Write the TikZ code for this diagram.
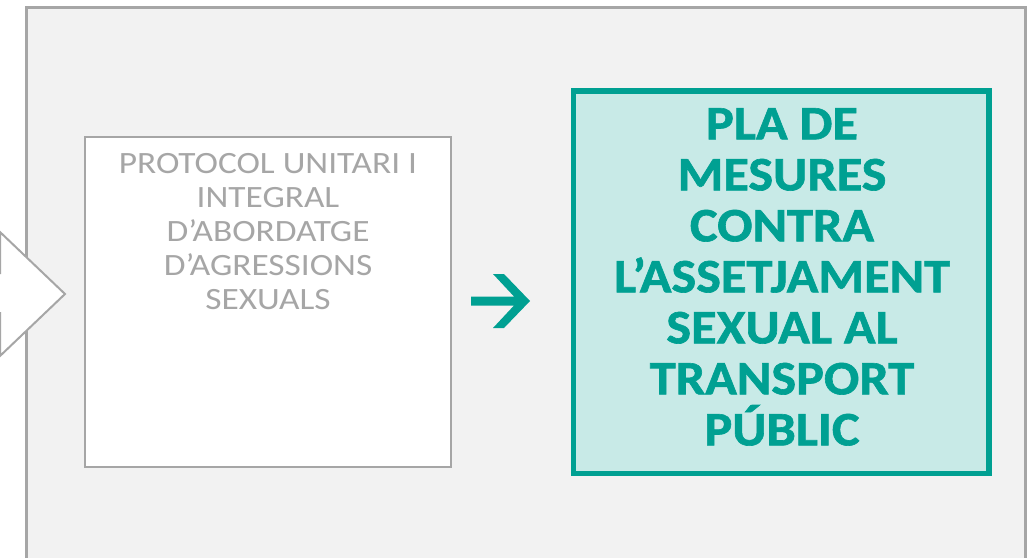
\documentclass[tikz,border=0pt]{standalone}
\usepackage{fontspec}
\setmainfont{Carlito}
\newfontfamily\greyfont[FakeStretch=1.14]{Carlito}
\newfontfamily\tealfont[FakeStretch=1.09,BoldFeatures={FakeStretch=1.09,FakeBold=1.3}]{Carlito}
\definecolor{framegray}{HTML}{A6A6A6}
\definecolor{bggray}{HTML}{F2F2F2}
\definecolor{tealc}{HTML}{00A092}
\definecolor{tealfill}{HTML}{C8EAE7}
\definecolor{textgray}{HTML}{A6A6A6}
\begin{document}
\begin{tikzpicture}[x=1pt,y=-1pt,
  outerframe/.style={draw=framegray, line width=3pt, fill=bggray},
  leftarrow/.style={draw=framegray, line width=2pt, fill=white, line join=miter},
  greybox/.style={draw=framegray, line width=1.8pt, fill=white, minimum width=366pt, minimum height=330pt, inner sep=0pt},
  tealbox/.style={draw=tealc, line width=5.5pt, fill=tealfill, minimum width=415.5pt, minimum height=382.5pt, inner sep=0pt},
  greytext/.style={text=textgray, font=\greyfont\fontsize{31}{34}\selectfont, align=center, inner sep=0pt, anchor=north},
  tealtext/.style={text=tealc, font=\tealfont\fontsize{48}{51}\selectfont\bfseries, align=center, inner sep=0pt, anchor=north},
  tealarrow/.style={fill=tealc},
]
\useasboundingbox (0,0) rectangle (1036,557);
\draw[outerframe] (26,7) rectangle (1025,575);
\draw[leftarrow] (-40,273) -- (0,273) -- (0,232) -- (65,294) -- (0,356) -- (0,313) -- (-40,313) -- cycle;
\node[greybox] (protocol) at (268,302) {};
\node[greytext] (protocoltext) at (268,153) {PROTOCOL UNITARI I\\INTEGRAL\\D’ABORDATGE\\D’AGRESSIONS\\SEXUALS};
\node[tealbox] (pla) at (781.25,282.25) {};
\node[tealtext] (platext) at (782,108) {PLA DE\\MESURES\\CONTRA\\L’ASSETJAMENT\\SEXUAL AL\\TRANSPORT\\PÚBLIC};
\fill[tealarrow] (471,296.5) -- (514,296.5) -- (493,274) -- (504,274) -- (530,301) -- (504,328) -- (493,328) -- (514,305.5) -- (471,305.5) -- cycle;
\end{tikzpicture}
\end{document}
